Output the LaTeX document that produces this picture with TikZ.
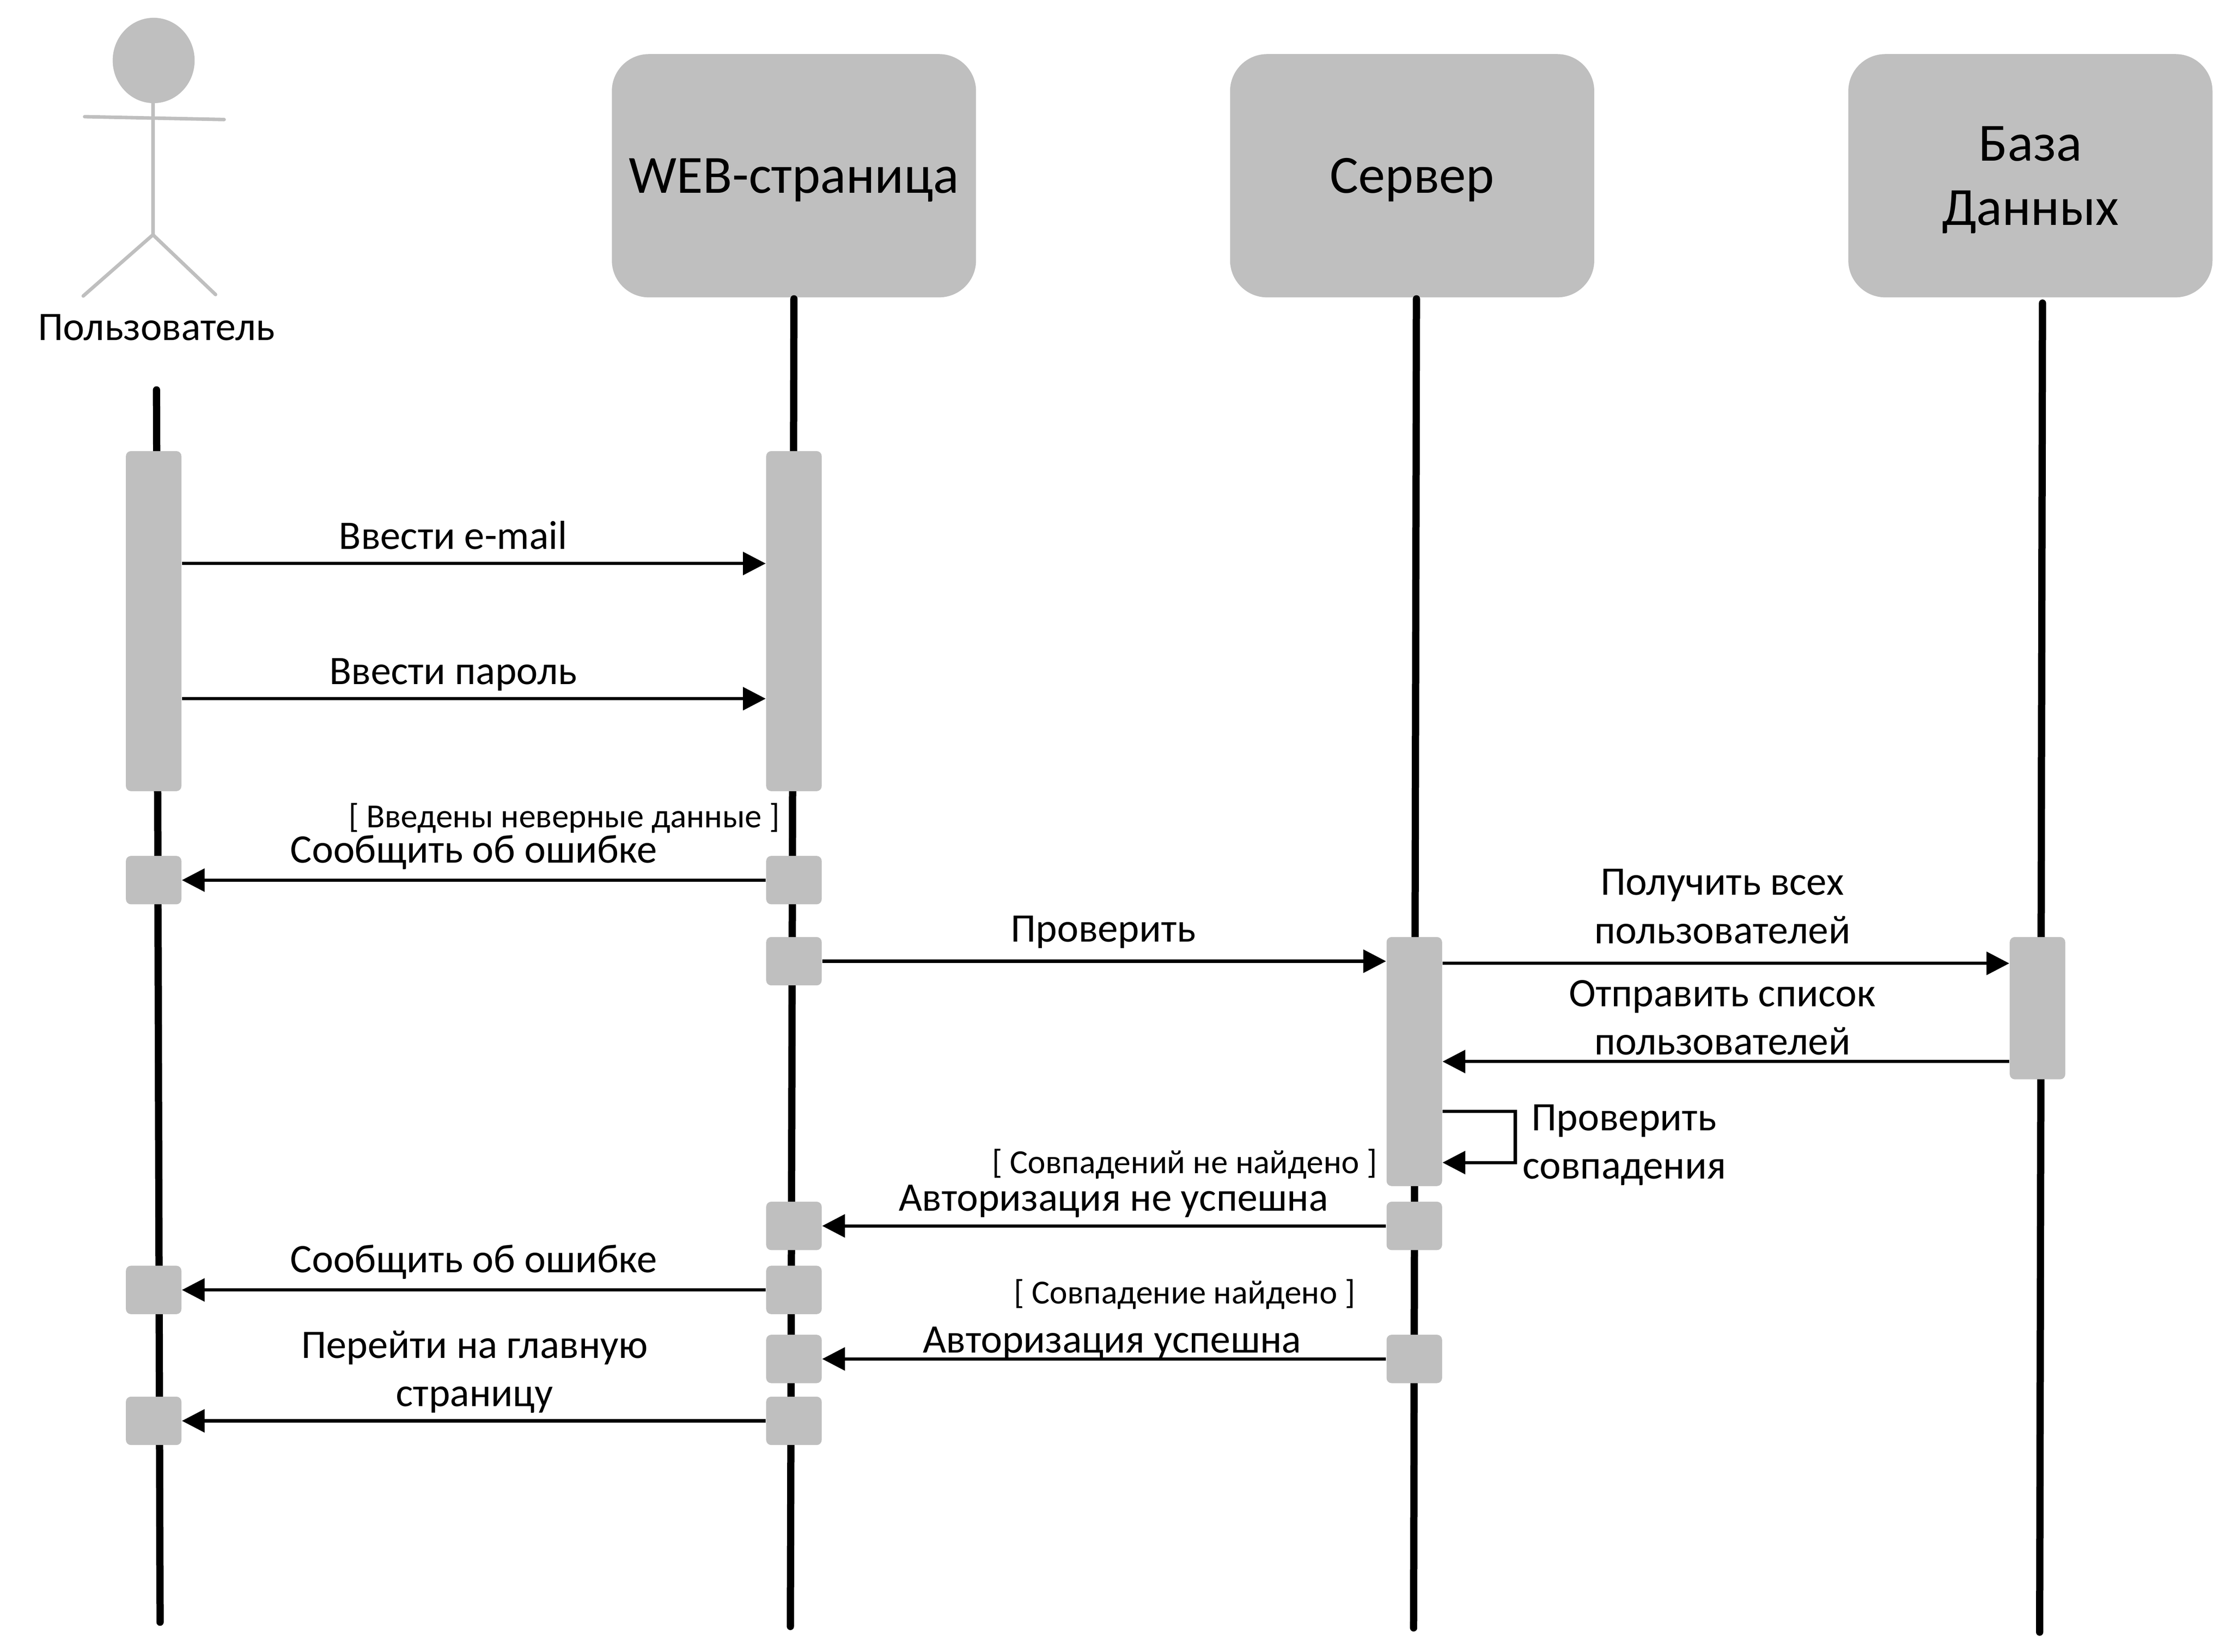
\documentclass[tikz,border=0pt]{standalone}
\usepackage{fontspec}
\setmainfont{Carlito}
\usepackage{xcolor}
\usetikzlibrary{arrows.meta}
\definecolor{barcol}{HTML}{BFBFBF}
\tikzset{
	head/.style = {fill = barcol, rounded corners = 0.52cm, minimum width = 5.12cm, minimum height = 3.42cm},
	headlbl/.style = {align = center, inner sep = 0pt, font = \fontsize{21.5}{25.6}\selectfont},
	bar/.style = {fill = barcol, rounded corners = 2pt, minimum width = 0.78cm, inner sep = 0pt},
	lifeline/.style = {line width = 2.9pt, line cap = round},
	msg/.style = {line width = 1.3pt, -{Triangle[length = 0.32cm, width = 0.32cm]}},
	figure/.style = {draw = barcol, line width = 1.4pt, line cap = round},
	lbl/.style = {align = center, inner sep = 0pt, font = \fontsize{16.2}{19.3}\selectfont},
	guard/.style = {inner sep = 0pt, font = \fontsize{13.5}{16}\selectfont}
}
\begin{document}
\begin{tikzpicture}[x = 0.02cm, y = -0.02cm]
		\useasboundingbox (0,0) rectangle (1568,1160.8);

		\fill[barcol] (108,42.5) ellipse (0.576cm and 0.6cm);
		\draw[figure] (107.5,72) -- (107.5,165);
		\draw[figure] (59.5,82) -- (157.5,84);
		\draw[figure] (107.5,165) -- (58.5,208);
		\draw[figure] (107.5,165) -- (151.5,207);
		\node[lbl] (userlbl) at (110,230) {Пользователь};

		\node[head] (web) at (558,123.5) {};
		\node[head] (server) at (992.5,123.5) {};
		\node[head] (base) at (1427,123.5) {};
		\node[headlbl] (weblbl) at (558,126.5) {WEB-страница};
		\node[headlbl] (serverlbl) at (992.5,126.5) {Сервер};
		\node[headlbl] (baselbl) at (1427,126.5) {База\\Данных};

		\coordinate (usertop) at (110,274);
		\coordinate (userend) at (112.5,1140);
		\coordinate (webtop) at (558,210);
		\coordinate (webend) at (555.5,1143);
		\coordinate (servertop) at (995.5,210);
		\coordinate (serverend) at (993.5,1144);
		\coordinate (basetop) at (1435.5,213);
		\coordinate (baseend) at (1433.5,1147);
		\draw[lifeline] (usertop) -- (userend);
		\draw[lifeline] (webtop) -- (webend);
		\draw[lifeline] (servertop) -- (serverend);
		\draw[lifeline] (basetop) -- (baseend);

		\node[bar, minimum height = 4.78cm] (userinput) at (108,436.5) {};
		\node[bar, minimum height = 4.78cm] (webinput) at (558,436.5) {};
		\node[bar, minimum height = 0.68cm] (usererr) at (108,618.5) {};
		\node[bar, minimum height = 0.68cm] (weberr) at (558,618.5) {};
		\node[bar, minimum height = 0.68cm] (webcheck) at (558,675.5) {};
		\node[bar, minimum height = 3.5cm] (serverwork) at (994,746) {};
		\node[bar, minimum height = 2cm] (basework) at (1432,708.5) {};
		\node[bar, minimum height = 0.68cm] (serverfail) at (994,861.5) {};
		\node[bar, minimum height = 0.68cm] (webfail) at (558,861.5) {};
		\node[bar, minimum height = 0.68cm] (userfail) at (108,906.5) {};
		\node[bar, minimum height = 0.68cm] (webfailb) at (558,906.5) {};
		\node[bar, minimum height = 0.68cm] (webok) at (558,955) {};
		\node[bar, minimum height = 0.68cm] (serverok) at (994,955) {};
		\node[bar, minimum height = 0.68cm] (usermain) at (108,998.5) {};
		\node[bar, minimum height = 0.68cm] (webmain) at (558,998.5) {};

		\draw[msg] (userinput.east |- 0,396) -- (webinput.west |- 0,396);
		\draw[msg] (userinput.east |- 0,491) -- (webinput.west |- 0,491);
		\draw[msg] (weberr.west) -- (usererr.east);
		\draw[msg] (webcheck.east) -- (serverwork.west |- webcheck.east);
		\draw[msg] (serverwork.east |- 0,677) -- (basework.west |- 0,677);
		\draw[msg] (basework.west |- 0,746) -- (serverwork.east |- 0,746);
		\coordinate (loopa) at (1065,781);
		\coordinate (loopb) at (1065,817);
		\draw[msg] (serverwork.east |- loopa) -- (loopa) -- (loopb) -- (serverwork.east |- loopb);
		\draw[msg] (serverfail.west) -- (webfail.east);
		\draw[msg] (webfailb.west) -- (userfail.east);
		\draw[msg] (serverok.west) -- (webok.east);
		\draw[msg] (webmain.west) -- (usermain.east);

		\node[lbl] (email) at (318.5,376) {Ввести e-mail};
		\node[lbl] (pass) at (318.5,474) {Ввести пароль};
		\node[guard] (wrong) at (396.5,575) {[ Введены неверные данные ]};
		\node[lbl] (errora) at (333,599) {Сообщить об ошибке};
		\node[lbl] (check) at (775.5,655) {Проверить};
		\node[lbl] (getall) at (1210.5,637) {Получить всех\\пользователей};
		\node[lbl] (sendall) at (1210.5,715) {Отправить список\\пользователей};
		\node[lbl] (match) at (1141.5,804.5) {Проверить\\совпадения};
		\node[guard] (nomatch) at (832.5,818) {[ Совпадений не найдено ]};
		\node[lbl] (authfail) at (782.5,844) {Авторизация не успешна};
		\node[lbl] (errorb) at (333,887) {Сообщить об ошибке};
		\node[guard] (found) at (832.5,909.5) {[ Совпадение найдено ]};
		\node[lbl] (authok) at (781.5,944) {Авторизация успешна};
		\node[lbl] (mainpage) at (333.5,964) {Перейти на главную\\страницу};
	\end{tikzpicture}
\end{document}
